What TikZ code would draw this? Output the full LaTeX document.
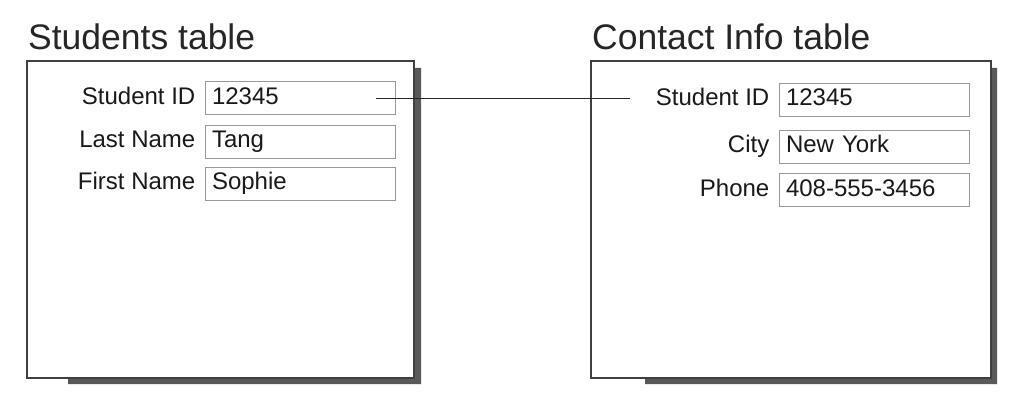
\documentclass[tikz,border=0pt]{standalone}
\usepackage{fontspec}
\setmainfont{Liberation Sans}
\begin{document}
\begin{tikzpicture}[x=1pt,y=-1pt,
  tablebox/.style={draw=black!75, line width=1.6pt, fill=white},
  shadowfill/.style={fill=black!65, draw=none},
  field/.style={draw=black!40, line width=1pt, minimum width=190pt, minimum height=33pt,
    text width=176pt, align=left, inner xsep=7pt, inner ysep=0pt,
    text height=17pt, text depth=5pt, font=\fontsize{24}{27}\selectfont, text=black!90},
  lbl/.style={anchor=east, inner sep=0pt, text height=17pt, text depth=5pt,
    font=\fontsize{24}{27}\selectfont, text=black!90},
  ttl/.style={anchor=base west, inner sep=0pt, font=\fontsize{35.5}{40}\selectfont, text=black!85},
  link/.style={draw=black!85, line width=1.2pt}]
\useasboundingbox (0,0) rectangle (1024,411);
\fill[white] (0,0) rectangle (1024,411);
% Students table
\node[ttl] (t1) at (28,50) {Students table};
\fill[shadowfill] (414,68) -- (421,68) -- (421,384) -- (68,384) -- (68,378) -- (414,378) -- cycle;
\draw[tablebox] (27,61) rectangle (414,378);
\node[field] (s1) at (300,98.5) {12345};
\node[field] (s2) at (300,142) {Tang};
\node[field] (s3) at (300,184) {Sophie};
\node[lbl] (l1) at ([xshift=-9pt]s1.west) {Student ID};
\node[lbl] (l2) at ([xshift=-9pt]s2.west) {Last Name};
\node[lbl] (l3) at ([xshift=-9pt]s3.west) {First Name};
% Contact Info table
\node[ttl] (t2) at (592,50) {Contact Info table};
\fill[shadowfill] (991,68) -- (997,68) -- (997,384) -- (645,384) -- (645,378) -- (991,378) -- cycle;
\draw[tablebox] (591,61) rectangle (991,378);
\node[field] (c1) at (874,100) {12345};
\node[field] (c2) at (874,147) {New York};
\node[field] (c3) at (874,190.5) {408-555-3456};
\node[lbl] (m1) at ([xshift=-9pt]c1.west) {Student ID};
\node[lbl] (m2) at ([xshift=-9pt]c2.west) {City};
\node[lbl] (m3) at ([xshift=-9pt]c3.west) {Phone};
% connector
\coordinate (a) at ([xshift=-20pt]s1.east);
\coordinate (b) at ([xshift=-26pt]m1.west |- a);
\draw[link] (a) -- (b);
\end{tikzpicture}
\end{document}
